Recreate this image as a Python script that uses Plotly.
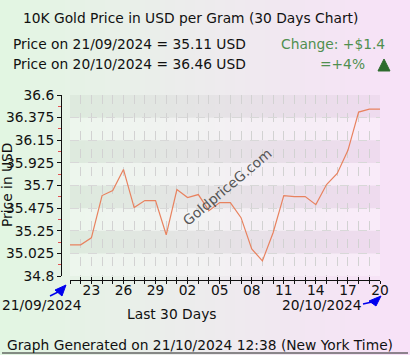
import plotly.graph_objects as go

# ---- data ----
day_labels = ["21", "22", "23", "24", "25", "26", "27", "28", "29", "30",
              "01", "02", "03", "04", "05", "06", "07", "08", "09", "10",
              "11", "12", "13", "14", "15", "16", "17", "18", "19", "20"]
prices = [35.11, 35.11, 35.18, 35.60, 35.65, 35.86, 35.48, 35.55, 35.55, 35.21,
          35.66, 35.58, 35.61, 35.45, 35.53, 35.53, 35.38, 35.07, 34.95, 35.23,
          35.60, 35.59, 35.59, 35.51, 35.71, 35.82, 36.05, 36.43, 36.46, 36.46]
y_ticks = [34.8, 35.025, 35.25, 35.475, 35.7, 35.925, 36.15, 36.375, 36.6]
y_ticktext = ["34.8", "35.025", "35.25", "35.475", "35.7", "35.925", "36.15", "36.375", "36.6"]
start_date = "21/09/2024"
end_date = "20/10/2024"
start_price = 35.11
end_price = 36.46
title_text = "10K Gold Price in USD per Gram (30 Days Chart)"
footer_text = "Graph Generated on 21/10/2024 12:38 (New York Time)"

FONT = "DejaVu Sans"
FS = 13.8
W, H = 410, 355
ML, MR, MT, MB = 55, 30, 95, 70
PW, PH = W - ML - MR, H - MT - MB


def px(x):
    return (x - ML) / PW


def py(y):
    return (H - MB - y) / PH


def path(points):
    return "M " + " L ".join("%f,%f" % (px(a), py(b)) for a, b in points) + " Z"


xs = list(range(len(prices)))
tick_text_x = [lab if (i % 3 == 2) else "" for i, lab in enumerate(day_labels)]

fig = go.Figure()
fig.add_trace(go.Scatter(x=xs, y=prices, mode="lines",
                         line=dict(color="#e8825f", width=1.2),
                         hoverinfo="skip", showlegend=False))
fig.add_trace(go.Scatter(x=[], y=[], xaxis="x2", yaxis="y", showlegend=False))

shapes = []
# background gradient (green -> pink)
left = (226, 246, 226)
right = (248, 225, 248)
n = 82
for i in range(n):
    t = i / (n - 1)
    c = tuple(round(left[k] + (right[k] - left[k]) * t) for k in range(3))
    x0 = i * W / n
    x1 = (i + 1) * W / n + 1
    shapes.append(dict(type="rect", xref="paper", yref="paper",
                       x0=px(x0), x1=px(x1), y0=py(H + 2), y1=py(-2),
                       fillcolor="rgb(%d,%d,%d)" % c, line=dict(width=0),
                       layer="below"))
# alternating horizontal bands
for j in range(len(y_ticks) - 1):
    col = "rgba(0,0,0,0.03)" if j % 2 == 1 else "rgba(255,255,255,0.3)"
    shapes.append(dict(type="rect", xref="x", yref="y", x0=0, x1=len(xs) - 1,
                       y0=y_ticks[j], y1=y_ticks[j + 1], fillcolor=col,
                       line=dict(width=0), layer="below"))
# bottom border line
shapes.append(dict(type="line", xref="paper", yref="paper",
                   x0=px(2), x1=px(408), y0=py(353), y1=py(353),
                   line=dict(color="#222222", width=1)))
# blue arrows (tail + triangular head)
blue = "#0000ee"
shapes.append(dict(type="line", xref="paper", yref="paper",
                   x0=px(50), y0=py(296), x1=px(58), y1=py(292),
                   line=dict(color=blue, width=1.5)))
shapes.append(dict(type="path", xref="paper", yref="paper",
                   path=path([(66, 285), (55, 290), (62, 296)]),
                   fillcolor=blue, line=dict(color=blue, width=1)))
shapes.append(dict(type="line", xref="paper", yref="paper",
                   x0=px(363), y0=py(304), x1=px(372), y1=py(302),
                   line=dict(color=blue, width=1.5)))
shapes.append(dict(type="path", xref="paper", yref="paper",
                   path=path([(381, 296), (369, 301), (376, 306)]),
                   fillcolor=blue, line=dict(color=blue, width=1)))
# green up marker (small tree-like triangle)
dg = "#2e6b2e"
shapes.append(dict(type="path", xref="paper", yref="paper",
                   path=path([(384, 59), (378, 71), (390, 71)]),
                   fillcolor=dg, line=dict(color=dg, width=1)))

chg = end_price - start_price
pct = chg / start_price * 100

annotations = [
    dict(text=title_text, x=px(21), y=py(18), xanchor="left", yanchor="middle"),
    dict(text="Price on %s = %.2f USD" % (start_date, start_price), x=px(11), y=py(44),
         xanchor="left", yanchor="middle"),
    dict(text="Price on %s = %.2f USD" % (end_date, end_price), x=px(11), y=py(64),
         xanchor="left", yanchor="middle"),
    dict(text="Change: +$%.1f" % chg, x=px(387), y=py(44), xanchor="right",
         yanchor="middle", font=dict(size=FS, color="#4f8f4f")),
    dict(text="=+%d%%" % round(pct), x=px(367), y=py(64), xanchor="right",
         yanchor="middle", font=dict(size=FS, color="#4f8f4f")),
    dict(text="Price in USD", x=px(7), y=py(184), textangle=-90, xanchor="center",
         yanchor="middle"),
    dict(text="GoldpriceG.com", x=px(227), y=py(187), textangle=-40, xanchor="center",
         yanchor="middle", font=dict(size=FS, color="#555555")),
    dict(text=start_date, x=px(0), y=py(305), xanchor="left", yanchor="middle"),
    dict(text=end_date, x=px(364), y=py(305), xanchor="right", yanchor="middle"),
    dict(text="Last 30 Days", x=px(172), y=py(314), xanchor="center", yanchor="middle"),
    dict(text=footer_text, x=px(200), y=py(345), xanchor="center", yanchor="middle"),
]
for a in annotations:
    a.setdefault("xref", "paper")
    a.setdefault("yref", "paper")
    a.setdefault("showarrow", False)
    a.setdefault("font", dict(size=FS, color="#111111"))

fig.update_layout(
    width=W, height=H,
    margin=dict(l=ML, r=MR, t=MT, b=MB, pad=0, autoexpand=False),
    paper_bgcolor="rgb(238,236,238)",
    plot_bgcolor="rgba(0,0,0,0)",
    font=dict(family=FONT, size=FS, color="#111111"),
    showlegend=False,
    shapes=shapes,
    annotations=annotations,
    xaxis=dict(domain=[px(70), px(380)], range=[0, len(xs) - 1],
               anchor="free", position=py(280), automargin=False,
               tickmode="array", tickvals=xs, ticktext=tick_text_x,
               ticks="outside", ticklen=3, tickcolor="#111111", tickwidth=1,
               ticklabelstandoff=-6,
               showline=True, linecolor="#111111", linewidth=1,
               showgrid=True, gridcolor="#d2d2d2", griddash="dash", gridwidth=1,
               zeroline=False, tickfont=dict(size=FS, color="#111111"),
               fixedrange=True),
    xaxis2=dict(overlaying="x", range=[0, len(xs) - 1], anchor="free",
                position=py(280), automargin=False, tickmode="array", tickvals=xs,
                ticktext=[""] * len(xs), ticks="inside", ticklen=3,
                tickcolor="#111111", showline=False, showgrid=False,
                zeroline=False, side="bottom"),
    yaxis=dict(domain=[py(276), py(95)], range=[y_ticks[0], y_ticks[-1]],
               anchor="free", position=px(61), automargin=False,
               tickmode="array", tickvals=y_ticks, ticktext=y_ticktext,
               ticks="outside", ticklen=4, tickcolor="#111111",
               minor=dict(tickmode="linear", tick0=y_ticks[0],
                          dtick=(y_ticks[1] - y_ticks[0]) / 2, ticks="outside",
                          ticklen=3, tickcolor="#e05050", showgrid=False),
               showline=True, linecolor="#111111", linewidth=1,
               showgrid=True, gridcolor="#d8d8d8", griddash="dash", gridwidth=1,
               zeroline=False, tickfont=dict(size=FS, color="#111111"),
               fixedrange=True),
)

fig.write_html("out.html")
